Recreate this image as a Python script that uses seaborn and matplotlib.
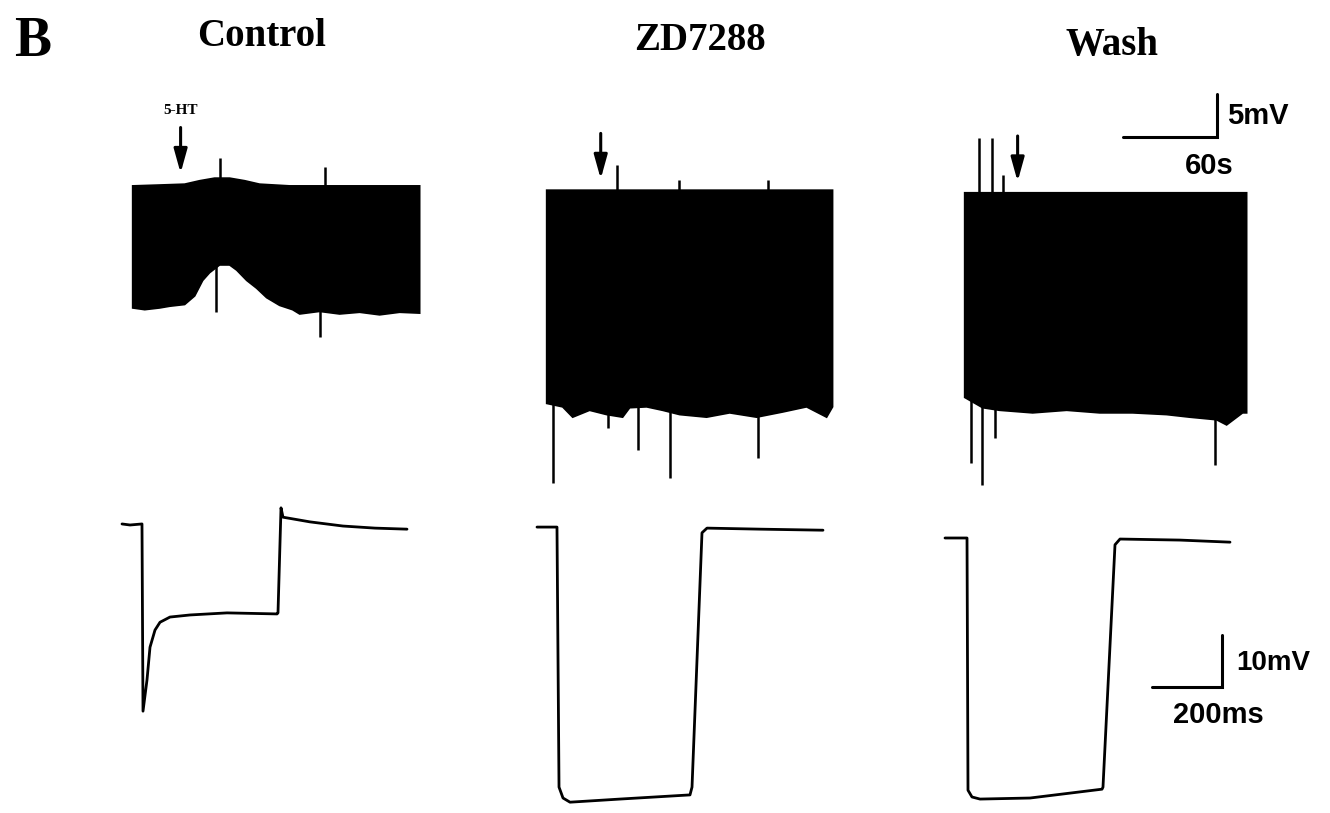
import numpy as np
import pandas as pd
import matplotlib
matplotlib.use("Agg")
import matplotlib.pyplot as plt
import seaborn as sns

sns.set_theme(style="white")
plt.rcParams["font.family"] = ["Liberation Sans", "DejaVu Sans"]
plt.rcParams["text.color"] = "black"

conditions = ["Control", "ZD7288", "Wash"]

# ---- slow recordings (time in s, membrane potential in mV re. control rest) ----
# upper edge (resting level) and lower edge (pulse responses) of the pulse train
ctrl_top_t = [0, 17.2, 33.2, 42.8, 52.3, 61.9, 71.5, 81.0, 100.2, 183.2]
ctrl_top_v = [-0.1, 0.0, 0.1, 0.5, 0.8, 0.8, 0.5, 0.1, -0.1, -0.1]
ctrl_bot_t = [0, 7.7, 17.2, 23.6, 33.2, 39.6, 44.7, 49.1, 55.5, 61.9, 66.4, 72.8,
              79.1, 85.5, 93.8, 102.1, 106.6, 119.3, 132.1, 144.9, 157.6, 170.4, 183.2]
ctrl_bot_v = [-14.3, -14.5, -14.3, -14.1, -13.9, -12.9, -11.1, -10.2, -9.3, -9.3, -9.9, -11.1,
              -12.0, -13.1, -14.0, -14.5, -15.0, -14.7, -15.0, -14.8, -15.1, -14.8, -14.9]
ctrl_spikes_t = [55.5, 122.5, 53.0, 119.3]
ctrl_spikes_v = [3.1, 2.1, -14.8, -17.7]

zd_top_t = [0, 182.5]
zd_top_v = [-0.6, -0.6]
zd_bot_t = [0, 10.2, 16.6, 27.4, 38.3, 48.5, 53.0, 63.8, 74.0, 84.9, 102.1, 116.8,
            134.0, 150.6, 165.9, 178.7, 182.5]
zd_bot_v = [-25.4, -25.8, -27.0, -26.2, -26.7, -27.0, -25.9, -25.8, -26.2, -26.7, -27.0, -26.5,
            -27.0, -26.4, -25.8, -27.0, -25.8]
zd_spikes_t = [44.7, 84.2, 141.0, 3.8, 38.9, 58.1, 78.5, 134.7]
zd_spikes_v = [2.3, 0.6, 0.6, -34.7, -28.3, -30.8, -34.1, -31.7]

wash_top_t = [0, 180.0]
wash_top_v = [-0.9, -0.9]
wash_bot_t = [0, 11.5, 22.3, 43.4, 65.1, 86.2, 107.2, 128.9, 143.6, 160.8, 167.2, 177.4, 180.0]
wash_bot_v = [-24.7, -25.9, -26.2, -26.5, -26.2, -26.5, -26.5, -26.7, -27.0, -27.3, -27.9, -26.5, -26.5]
wash_spikes_t = [8.9, 17.2, 24.3, 3.8, 10.8, 19.1, 159.5]
wash_spikes_v = [5.5, 5.5, 1.2, -32.3, -34.9, -29.4, -32.6]

# time of 5-HT application in each recording (s)
ht_time = [30.6, 34.5, 33.8]

# ---- responses to a hyperpolarising current step (time in ms, mV) ----
ctrl_step_t = [0, 22.9, 57.1, 60.0, 71.4, 80.0, 94.3, 108.6, 137.1, 194.3, 300.0, 442.9,
               445.7, 454.3, 460.0, 537.1, 631.4, 722.9, 814.3]
ctrl_step_v = [0.2, 0.0, 0.2, -35.8, -29.8, -23.5, -20.2, -18.7, -17.7, -17.3, -16.9, -17.1,
               -16.9, 3.3, 1.5, 0.6, -0.2, -0.6, -0.8]
zd_step_t = [0, 57.1, 62.9, 74.3, 94.3, 237.1, 437.1, 442.9, 471.4, 485.7, 637.1, 817.1]
zd_step_v = [-0.4, -0.4, -50.4, -52.5, -53.3, -52.7, -51.9, -50.4, -1.5, -0.6, -0.8, -1.0]
wash_step_t = [0, 62.9, 65.7, 77.1, 100.0, 242.9, 448.6, 451.4, 485.7, 500.0, 671.4, 814.3]
wash_step_v = [-2.5, -2.5, -51.0, -52.3, -52.7, -52.5, -50.8, -50.4, -3.8, -2.7, -2.9, -3.3]

# scale bars
slow_bar_s, slow_bar_mv = 60, 5
fast_bar_ms, fast_bar_mv = 200, 10

slow = [
    (ctrl_top_t, ctrl_top_v, ctrl_bot_t, ctrl_bot_v, ctrl_spikes_t, ctrl_spikes_v),
    (zd_top_t, zd_top_v, zd_bot_t, zd_bot_v, zd_spikes_t, zd_spikes_v),
    (wash_top_t, wash_top_v, wash_bot_t, wash_bot_v, wash_spikes_t, wash_spikes_v),
]
steps = [(ctrl_step_t, ctrl_step_v), (zd_step_t, zd_step_v), (wash_step_t, wash_step_v)]

W, H = 1330, 813
fig = plt.figure(figsize=(W / 100, H / 100), dpi=100)
fig.patch.set_facecolor("white")


def px_axes(left, top, width, height):
    ax = fig.add_axes([left / W, 1 - (top + height) / H, width / W, height / H])
    ax.set_facecolor("none")
    ax.set_axis_off()
    return ax


slow_left = [117, 531, 949]
step_left = [115, 530, 938]
title_x = [262, 700, 1112]
title_y = [37, 40, 46]

top_axes, bot_axes = [], []
for i, name in enumerate(conditions):
    # slow recording with the pulse train
    ax = px_axes(slow_left[i], 80, 329, 420)
    ax.set_xlim(-10, 200)
    ax.set_ylim(-36.63, 12.21)
    tt, tv, bt, bv, st, sv = slow[i]
    poly_t = list(tt) + list(bt)[::-1]
    poly_v = list(tv) + list(bv)[::-1]
    ax.fill(poly_t, poly_v, color="black", lw=1.2, ec="black")
    # spikes leave the edge of the pulse train
    for t, v in zip(st, sv):
        base = np.interp(t, tt, tv) if v > 0 else np.interp(t, bt, bv) + 0.3
        ax.vlines(t, min(base, v), max(base, v), color="black", lw=1.8)
    top_level = np.interp(ht_time[i], tt, tv)
    ax.annotate("", xy=(ht_time[i], top_level + 1.3), xytext=(ht_time[i], top_level + 6.6),
                arrowprops=dict(arrowstyle="-|>,head_width=0.25,head_length=0.9",
                                color="black", lw=2.2, mutation_scale=16,
                                shrinkA=0, shrinkB=0))
    top_axes.append(ax)

    # step response
    bx = px_axes(step_left[i], 490, 322, 323)
    bx.set_xlim(-20, 900)
    bx.set_ylim(-55.38, 6.73)
    df = pd.DataFrame({"t": steps[i][0], "v": steps[i][1]})
    sns.lineplot(data=df, x="t", y="v", sort=False, estimator=None, color="black",
                 lw=2.0, ax=bx, legend=False)
    bx.set_axis_off()
    bot_axes.append(bx)

    fig.text(title_x[i] / W, 1 - title_y[i] / H, name, ha="center", va="center",
             fontsize=28, fontweight="bold", family=["Liberation Serif"])

top_axes[0].text(ht_time[0], 8.7, "5-HT", ha="center", va="center", fontsize=11,
                 fontweight="bold", family=["Liberation Serif"])

fig.text(33 / W, 1 - 42 / H, "B", ha="center", va="center", fontsize=40,
         fontweight="bold", family=["Liberation Serif"])

# slow scale bar (drawn in the Wash recording's data units)
ax = top_axes[2]
x1, y0 = 160.8, 5.58
ax.plot([x1 - slow_bar_s, x1, x1], [y0, y0, y0 + slow_bar_mv], color="black", lw=2.2,
        solid_joinstyle="miter")
ax.text(x1 + 6.5, y0 + 2.4, f"{slow_bar_mv}mV", ha="left", va="center", fontsize=21,
        fontweight="bold")
ax.text(x1 - 5.0, y0 - 3.4, f"{slow_bar_s}s", ha="center", va="center", fontsize=21,
        fontweight="bold")

# fast scale bar
bx = bot_axes[2]
x1, y0 = 791.4, -31.15
bx.plot([x1 - fast_bar_ms, x1, x1], [y0, y0, y0 + fast_bar_mv], color="black", lw=2.2,
        solid_joinstyle="miter")
bx.text(x1 + 40, y0 + 4.6, f"{fast_bar_mv}mV", ha="left", va="center", fontsize=20,
        fontweight="bold")
bx.text(x1 - 11, y0 - 5.4, f"{fast_bar_ms}ms", ha="center", va="center", fontsize=21,
        fontweight="bold")

fig.savefig("out.png", dpi=100, facecolor="white")
